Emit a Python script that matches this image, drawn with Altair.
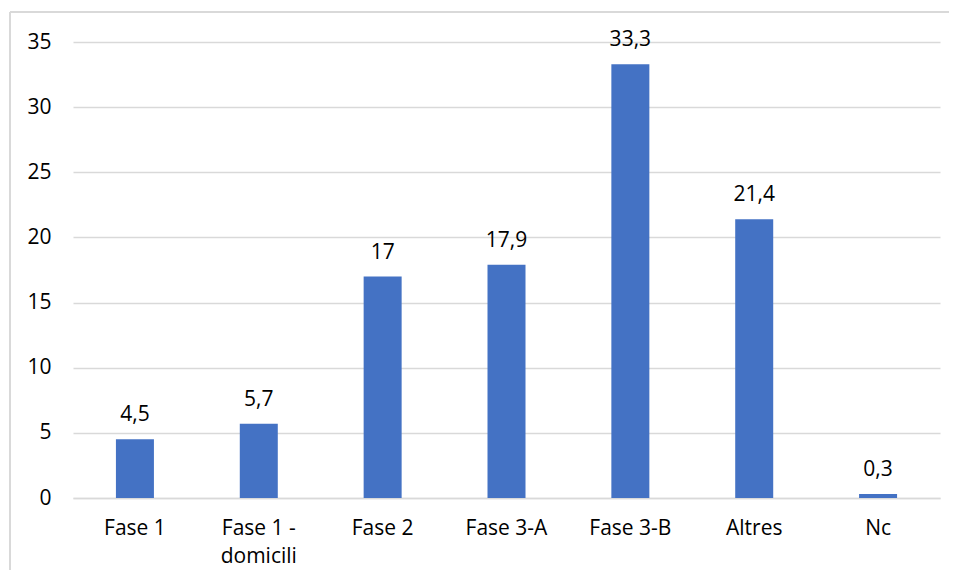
import altair as alt
import pandas as pd

categories = ["Fase 1", "Fase 1 - domicili", "Fase 2", "Fase 3-A", "Fase 3-B", "Altres", "Nc"]
values = [4.5, 5.7, 17, 17.9, 33.3, 21.4, 0.3]

df = pd.DataFrame({"cat": categories, "val": values})

FONT = "Open Sans"
GRID = "#d9d9d9"
FS = 21

base = alt.Chart(df)

bars = base.mark_bar(color="#4472C4", size=38).encode(
    x=alt.X("cat:N", sort=categories, title=None,
            scale=alt.Scale(paddingInner=0.69, paddingOuter=0.345),
            axis=alt.Axis(labelAngle=0, labelFontSize=FS, labelFont=FONT, labelColor="#000000",
                          labelPadding=19, ticks=False, domainColor=GRID, domainWidth=1.5,
                          labelLineHeight=28,
                          labelExpr="datum.label == 'Fase 1 - domicili' ? ['Fase 1 -', 'domicili'] : datum.label")),
    y=alt.Y("val:Q", title=None,
            scale=alt.Scale(domain=[0, 35]),
            axis=alt.Axis(values=[0, 5, 10, 15, 20, 25, 30, 35], labelFontSize=FS, labelFont=FONT,
                          labelColor="#000000", labelPadding=22, ticks=False, domain=False,
                          gridColor=GRID, gridWidth=1.5)),
)

labels = base.transform_calculate(
    lab="replace(toString(datum.val), '.', ',')"
).mark_text(font=FONT, fontSize=FS, color="#000000", baseline="alphabetic", dy=-18).encode(
    x=alt.X("cat:N", sort=categories),
    y="val:Q",
    text="lab:N",
)

border_data = alt.Data(values=[{"k": 1}])
top_line = alt.Chart(border_data).mark_rule(color=GRID, strokeWidth=2).encode(
    x=alt.value(-63), x2=alt.value(890), y=alt.value(-30))
left_line = alt.Chart(border_data).mark_rule(color=GRID, strokeWidth=2).encode(
    x=alt.value(-63), y=alt.value(-30), y2=alt.value(540))

chart = alt.layer(bars, labels, top_line, left_line).properties(
    width=867, height=456,
    autosize=alt.AutoSizeParams(type="none"),
    padding={"left": 65, "top": 34, "right": 9, "bottom": 72},
    background="white",
).configure_view(stroke=None)

chart.save("out.html", embed_options={"renderer": "svg", "actions": False})
